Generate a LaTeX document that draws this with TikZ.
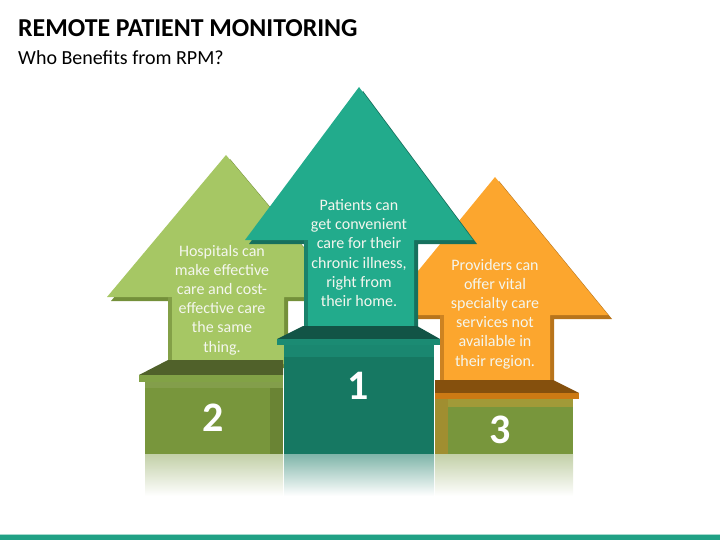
\documentclass[tikz,border=0pt]{standalone}
\usepackage{fontspec}
\setmainfont{Carlito}
\definecolor{grface}{HTML}{A6C764}
\definecolor{grdark}{HTML}{74903A}
\definecolor{grtop}{HTML}{50612A}
\definecolor{grrim}{HTML}{82A246}
\definecolor{grbox}{HTML}{78963C}
\definecolor{grside}{HTML}{6A8434}
\definecolor{tlface}{HTML}{22AB8C}
\definecolor{tldark}{HTML}{17705D}
\definecolor{tltop}{HTML}{125446}
\definecolor{tlrim}{HTML}{1B8B73}
\definecolor{tlbox}{HTML}{167862}
\definecolor{orface}{HTML}{FCA62E}
\definecolor{ordark}{HTML}{B8741B}
\definecolor{ortop}{HTML}{85500D}
\definecolor{orrim}{HTML}{CC7A14}
\definecolor{orband}{HTML}{A19A38}
\definecolor{orside}{HTML}{A08E30}
\definecolor{barcol}{HTML}{21A185}
\definecolor{armwhite}{HTML}{F4F6EE}
% #1,#2 = tip, #3 = half wing, #4 = wing y, #5 = half shaft, #6 = shaft bottom
\newcommand\arrowpath[6]{(#1,#2) -- ({#1+#3},#4) -- ({#1+#5},#4) -- ({#1+#5},#6)
  -- ({#1-#5},#6) -- ({#1-#5},#4) -- ({#1-#3},#4) -- cycle}
\tikzset{
  armtext/.style={text=armwhite, align=center, inner sep=0pt, font=\fontsize{16}{19.2}\selectfont},
  podnum/.style={text=white, inner sep=0pt, font=\fontsize{42}{42}\selectfont\bfseries}
}
\begin{document}
\begin{tikzpicture}[x=1pt,y=-1pt]
\useasboundingbox (0,0) rectangle (720,540);
\node[anchor=base west, inner sep=0pt, font=\fontsize{25.8}{30}\selectfont\bfseries] (title) at (18,37) {REMOTE PATIENT MONITORING};
\node[anchor=base west, inner sep=0pt, font=\fontsize{20}{24}\selectfont] (subtitle) at (18,65) {Who Benefits from RPM?};
% arrows 2, 3, 1: dark copy shifted (4,4), face, inner strip on shaft left
\foreach \tx/\ty/\wh/\wy/\sh/\sb/\fc/\dk in {226/155/119/297/58/364/grface/grdark,
    495/177/113/315/55/382/orface/ordark, 359/87/114/240/55/330/tlface/tldark}{
  \fill[\dk, shift={(4,4)}] \arrowpath{\tx}{\ty}{\wh}{\wy}{\sh}{\sb};
  \fill[\fc] \arrowpath{\tx}{\ty}{\wh}{\wy}{\sh}{\sb};
  \fill[\dk!70!\fc] ({\tx-\sh},\wy) rectangle ({\tx-\sh+4},\sb);
}
\node[armtext] (hosp) at (222,300) {Hospitals can\\make effective\\care and cost-\\effective care\\the same\\thing.};
\node[armtext] (pat) at (359,253) {Patients can\\get convenient\\care for their\\chronic illness,\\right from\\their home.};
\node[armtext] (prov) at (495,314) {Providers can\\offer vital\\specialty care\\services not\\available in\\their region.};
% podium 2
\fill[grtop] (168,360) -- (283,360) -- (283,375) -- (139,375) -- cycle;
\fill[grrim] (139,375) rectangle (283,382);
\fill[grbox!92!white] (145,382) rectangle (283,388);
\fill[grbox] (145,388) rectangle (270,454);
\fill[grside] (270,388) rectangle (283,454);
\shade[top color=grbox!45!white, bottom color=white] (145,454) rectangle (283,496);
\node[podnum] (two) at (213,418) {2};
% podium 3
\fill[ortop] (435,380) -- (553,380) -- (579,393) -- (435,393) -- cycle;
\fill[orrim] (435,393) rectangle (579,399);
\fill[grbox] (435,399) rectangle (573,454);
\fill[orband] (435,399) rectangle (573,407);
\fill[orside] (435,399) rectangle (448,454);
\shade[top color=grbox!45!white, bottom color=white] (435,454) rectangle (573,496);
\node[podnum] (three) at (500,430) {3};
% podium 1
\fill[tltop] (303,326) -- (417,326) -- (440,339) -- (277,339) -- cycle;
\fill[tlrim] (277,339) rectangle (440,345);
\fill[tlrim!80!tlbox] (284,345) rectangle (434,357);
\fill[tlbox] (284,357) rectangle (434,454);
\shade[top color=tlbox!55!white, bottom color=white] (284,454) rectangle (434,496);
\node[podnum] (one) at (358,386) {1};
% bottom bar
\fill[barcol] (0,534) rectangle (720,540);
\draw[barcol!40!white, line width=1pt] (0,534) -- (720,534);
\end{tikzpicture}
\end{document}
